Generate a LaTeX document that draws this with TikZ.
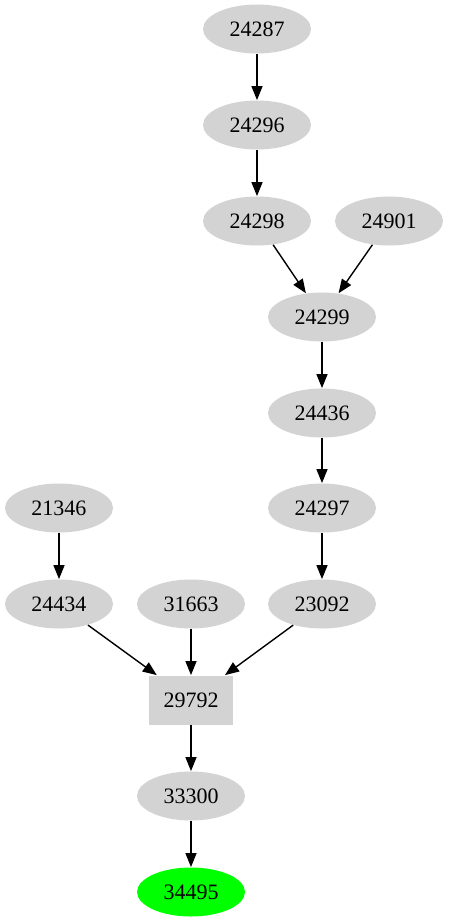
\documentclass[tikz,border=0pt]{standalone}
\usepackage{fontspec}
\setmainfont{Liberation Serif}
\usetikzlibrary{arrows.meta, shapes.geometric}
\definecolor{nodegray}{HTML}{D3D3D3}
\definecolor{goalgreen}{HTML}{00FF00}
\begin{document}
\begin{tikzpicture}[x=0.5pt, y=-0.5pt,
		ell/.style={ellipse, fill=nodegray, minimum width=54pt, minimum height=24.5pt, inner sep=0pt, font=\fontsize{11}{13}\selectfont},
		box/.style={rectangle, fill=nodegray, minimum width=42pt, minimum height=24.5pt, inner sep=0pt, font=\fontsize{11}{13}\selectfont},
		edge/.style={-{Triangle[length=7pt, width=5.5pt]}, line width=0.7pt}]
		\useasboundingbox (0,0) rectangle (449,923);

		\node[ell] (n24287) at (257,29) {24287};
		\node[ell] (n24296) at (257,125) {24296};
		\node[ell] (n24298) at (257,221) {24298};
		\node[ell] (n24901) at (389,221) {24901};
		\node[ell] (n24299) at (322,317) {24299};
		\node[ell] (n24436) at (322,413) {24436};
		\node[ell] (n24297) at (322,508) {24297};
		\node[ell] (n21346) at (59,508) {21346};
		\node[ell] (n24434) at (59,604) {24434};
		\node[ell] (n31663) at (191,604) {31663};
		\node[ell] (n23092) at (322,604) {23092};
		\node[box] (n29792) at (191,700) {29792};
		\node[ell] (n33300) at (191,796) {33300};
		\node[ell, fill=goalgreen] (n34495) at (191,892) {34495};

		\draw[edge] (n24287) -- (n24296);
		\draw[edge] (n24296) -- (n24298);
		\draw[edge] (n24298) -- (n24299);
		\draw[edge] (n24901) -- (n24299);
		\draw[edge] (n24299) -- (n24436);
		\draw[edge] (n24436) -- (n24297);
		\draw[edge] (n24297) -- (n23092);
		\draw[edge] (n21346) -- (n24434);
		\draw[edge] (n24434) -- (n29792);
		\draw[edge] (n31663) -- (n29792);
		\draw[edge] (n23092) -- (n29792);
		\draw[edge] (n29792) -- (n33300);
		\draw[edge] (n33300) -- (n34495);

	\end{tikzpicture}
\end{document}
